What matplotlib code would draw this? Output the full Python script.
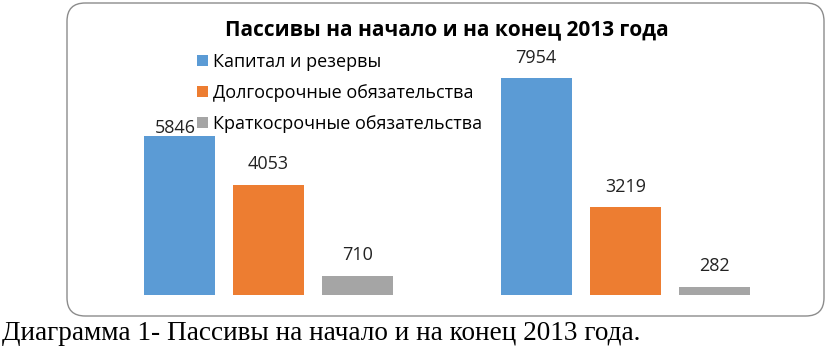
import numpy as np
import matplotlib.pyplot as plt
from matplotlib.patches import FancyBboxPatch

# данные
periods = ['Начало 2013', 'Конец 2013']
series_names = ['Капитал и резервы', 'Долгосрочные обязательства', 'Краткосрочные обязательства']
kapital = [5846, 7954]
dolgosr = [4053, 3219]
kratkosr = [710, 282]
colors = ['#5B9BD5', '#ED7D31', '#A5A5A5']

plt.rcParams['font.family'] = ['Open Sans', 'DejaVu Sans']

fig = plt.figure(figsize=(8.27, 3.52), dpi=100)
W, H = 827, 352

# рамка диаграммы со скруглёнными углами
frame = FancyBboxPatch((67 / W, 1 - 316 / H), (824 - 67) / W, (316 - 3) / H,
                       boxstyle='round,pad=0,rounding_size=0.022',
                       transform=fig.transFigure, facecolor='none',
                       edgecolor='#8c8c8c', linewidth=1.0, mutation_aspect=W / H)
fig.patches.append(frame)

ax = fig.add_axes([90 / W, 1 - 295 / H, 714 / W, 245 / H])
ax.patch.set_alpha(0)

x = np.arange(len(periods))
width = 0.2
offsets = [-0.25, 0, 0.25]
bars = []
for vals, off, col, name in zip([kapital, dolgosr, kratkosr], offsets, colors, series_names):
    b = ax.bar(x + off, vals, width=width, color=col, label=name)
    bars.append(b)

# подписи значений
for i, b in enumerate(bars):
    for j, rect in enumerate(b):
        dx, dy = 0, 15
        if i == 0 and j == 0:
            dx, dy = -3, 6
        ax.annotate(f'{int(rect.get_height())}',
                    (rect.get_x() + rect.get_width() / 2, rect.get_height()),
                    xytext=(dx, dy), textcoords='offset points',
                    ha='center', va='center', fontsize=13, color='#222222')

ax.set_xlim(-0.5, 1.5)
ax.set_ylim(0, 9000)
ax.axis('off')

fig.text(447 / W, 1 - 30 / H, 'Пассивы на начало и на конец 2013 года',
         ha='center', va='center', fontsize=15, fontweight='bold', color='black')

ax.legend(loc='upper left', bbox_to_anchor=(197 / W, 1 - 53 / H),
          bbox_transform=fig.transFigure, frameon=False, fontsize=13,
          handlelength=0.6, handleheight=0.6, handletextpad=0.3,
          labelspacing=0.72, borderpad=0, borderaxespad=0)

fig.text(2 / W, 1 - 333 / H, 'Диаграмма 1- Пассивы на начало и на конец 2013 года.',
         ha='left', va='center', fontsize=19.6, family=['Liberation Serif', 'DejaVu Serif'])

fig.savefig('out.png', dpi=100)
